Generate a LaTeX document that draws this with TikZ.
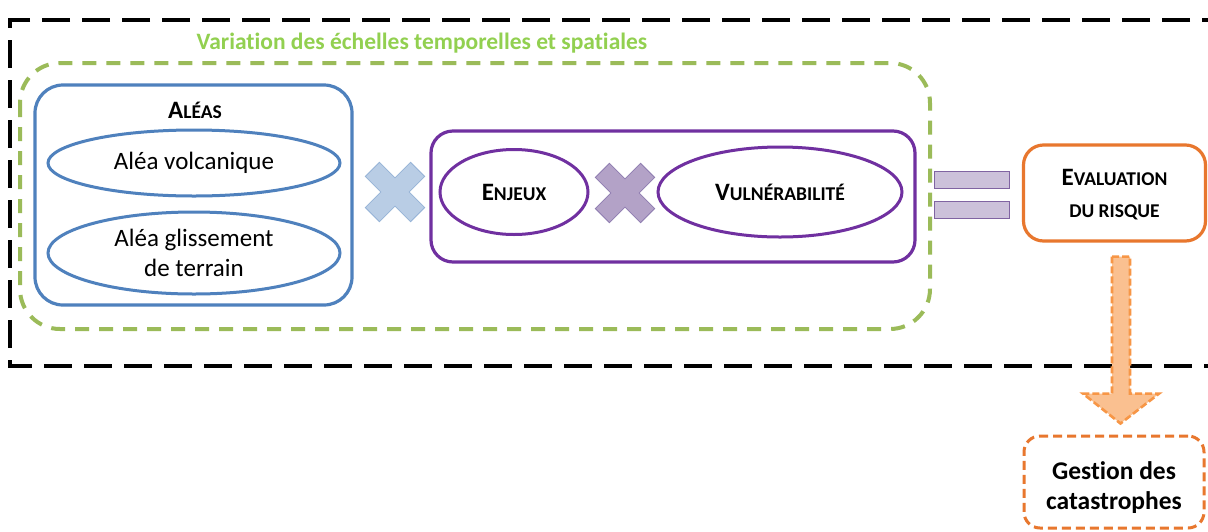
\documentclass[tikz,border=0pt]{standalone}
\usepackage{fontspec}
\setmainfont{Carlito}[Ligatures=NoCommon]
\usetikzlibrary{shapes.geometric,calc}
\definecolor{blueC}{HTML}{4F81BD}
\definecolor{purpleC}{HTML}{7030A0}
\definecolor{orangeC}{HTML}{E8772E}
\definecolor{greenC}{HTML}{9BBB59}
\definecolor{titleC}{HTML}{92D050}
\definecolor{blueX}{HTML}{B9CDE5}
\definecolor{blueXb}{HTML}{95B3D7}
\definecolor{purpX}{HTML}{B3A2C7}
\definecolor{purpXb}{HTML}{8E7CB0}
\definecolor{eqF}{HTML}{CCC1DA}
\definecolor{eqB}{HTML}{8064A2}
\definecolor{arrF}{HTML}{FAC090}
\definecolor{arrB}{HTML}{F79646}
\newcommand\smcap[2]{{\fontsize{25}{30}\selectfont #1}{\fontsize{19.5}{24}\selectfont #2}}
\tikzset{
  box/.style={draw, line width=3.2pt, rounded corners=#1, inner sep=0pt},
  ell/.style={draw, ellipse, line width=3pt, inner sep=0pt, align=center},
  txt/.style={font=\fontsize{25}{30}\selectfont, align=center, text=black},
  btxt/.style={font=\bfseries, align=center, text=black},
  crossshape/.style={line width=0.8pt},
  eqbar/.style={draw=eqB, fill=eqF, line width=1pt, minimum width=75pt, minimum height=17pt, inner sep=0pt},
}
\begin{document}
\begin{tikzpicture}[x=1pt,y=-1pt]
\clip (0,0) rectangle (1208,531);
\useasboundingbox (0,0) rectangle (1208,531);
\fill[white] (0,0) rectangle (1208,531);

% outer black dashed frame
\draw[line width=4pt, dash pattern=on 28pt off 12pt] (1230,20) -- (10,20) -- (10,366) -- (1230,366);

% green dashed frame
\draw[greenC, line width=4pt, dash pattern=on 14pt off 10pt, rounded corners=40pt] (20,63) rectangle (930,329);
\node[font=\fontsize{23.5}{28}\selectfont\bfseries, text=titleC] (title) at (422,43) {Variation des échelles temporelles et spatiales};

% Aleas box
\node[box=28pt, draw=blueC, minimum width=317pt, minimum height=220pt] (aleas) at (193.5,195) {};
\node[btxt] (aleast) at (195,110) {\smcap{A}{LÉAS}};
\node[ell, draw=blueC, minimum width=292pt, minimum height=66pt, txt] (volc) at (194,163) {Aléa volcanique};
\node[ell, draw=blueC, minimum width=292pt, minimum height=82pt, txt] (gliss) at (194,253) {Aléa glissement\\de terrain};

% blue cross
\draw[crossshape, draw=blueXb, fill=blueX, shift={(395,192)}, rotate=45]
  (-10,-32) -- (10,-32) -- (10,-10) -- (32,-10) -- (32,10) -- (10,10) -- (10,32) -- (-10,32) -- (-10,10) -- (-32,10) -- (-32,-10) -- (-10,-10) -- cycle;

% purple box
\node[box=22pt, draw=purpleC, minimum width=484pt, minimum height=131pt] (enjbox) at (673,196.5) {};
\node[ell, draw=purpleC, minimum width=148pt, minimum height=85pt, btxt] (enjeux) at (514,192) {\smcap{E}{NJEUX}};
\draw[crossshape, draw=purpXb, fill=purpX, shift={(625,193)}, rotate=45]
  (-10,-32) -- (10,-32) -- (10,-10) -- (32,-10) -- (32,10) -- (10,10) -- (10,32) -- (-10,32) -- (-10,10) -- (-32,10) -- (-32,-10) -- (-10,-10) -- cycle;
\node[ell, draw=purpleC, minimum width=244pt, minimum height=90pt, btxt] (vuln) at (780,192) {\smcap{V}{ULNÉRABILITÉ}};

% equals
\node[eqbar] (eq1) at (972,180) {};
\node[eqbar] (eq2) at (972,209.5) {};

% evaluation box
\node[box=20pt, draw=orangeC, minimum width=182pt, minimum height=96pt] (eval) at (1114.5,193) {};
\node[btxt, font=\bfseries\fontsize{20}{32}\selectfont] (evalt) at (1114.5,195) {\smcap{E}{VALUATION}\\\smcap{}{DU RISQUE}};

% gestion box
\node[box=16pt, draw=orangeC, dash pattern=on 9pt off 5pt, line width=3pt, minimum width=180pt, minimum height=92pt] (gest) at (1114,482) {};
\node[btxt, font=\bfseries\fontsize{25.5}{30}\selectfont] (gestt) at (1114,488) {Gestion des\\catastrophes};

% block arrow
\coordinate (a0) at ($(eval.south)+(6.5,14)$);
\draw[draw=arrB, fill=arrF, line width=2.6pt, dash pattern=on 7pt off 3pt, line join=miter]
  ($(a0)+(-9,0)$) -- ($(a0)+(9,0)$) -- ($(a0)+(9,137)$) -- ($(a0)+(38,137)$) -- ($(gest.north)+(6.5,-11)$) -- ($(a0)+(-38,137)$) -- ($(a0)+(-9,137)$) -- cycle;
\end{tikzpicture}
\end{document}
